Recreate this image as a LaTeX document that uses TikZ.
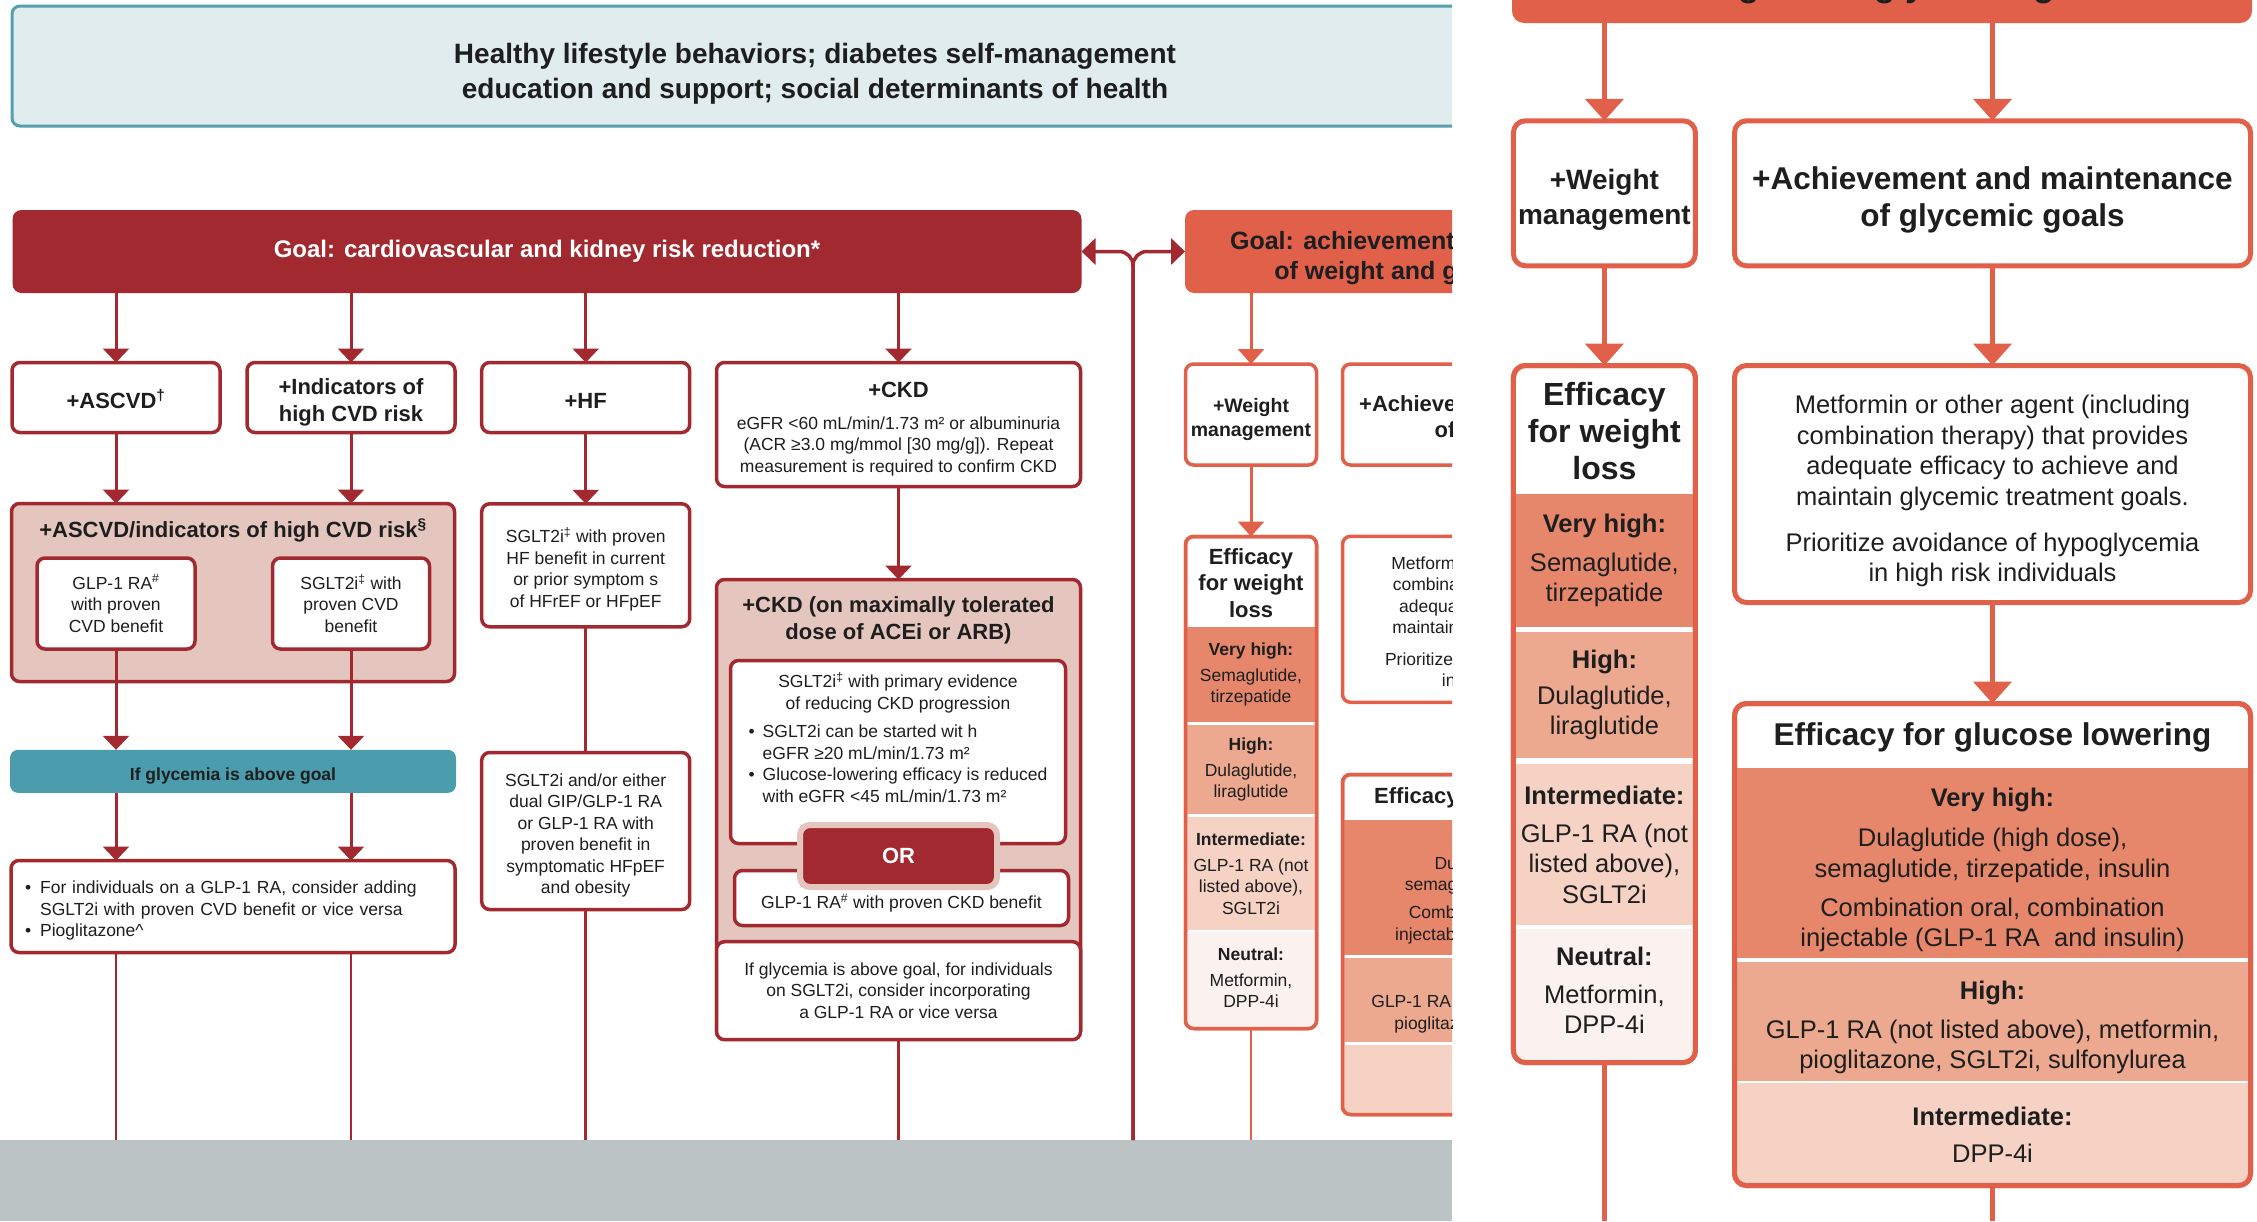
\documentclass[tikz,border=0pt]{standalone}
\usepackage{fontspec}
\setmainfont{Liberation Sans}
\usetikzlibrary{arrows.meta,positioning}

\definecolor{cvdred}{HTML}{A2292F}
\definecolor{riskpink}{HTML}{E5C6BF}
\definecolor{glyteal}{HTML}{4B9DAE}
\definecolor{lifeblue}{HTML}{E1ECEE}
\definecolor{lifeedge}{HTML}{55A0AF}
\definecolor{wgorange}{HTML}{E0604A}
\definecolor{effvhigh}{HTML}{E6876C}
\definecolor{effhigh}{HTML}{ECA98F}
\definecolor{effmid}{HTML}{F5D2C3}
\definecolor{effneutral}{HTML}{FBF1EE}
\definecolor{footgrey}{HTML}{BBC3C4}
\definecolor{inkgrey}{HTML}{1E1E1E}

\newcommand\lifesize{\fontsize{28}{34.5}\selectfont}
\newcommand\goalsize{\fontsize{24}{29}\selectfont}
\newcommand\headsize{\fontsize{22}{26.5}\selectfont}
\newcommand\bodysize{\fontsize{17.5}{21.5}\selectfont}
\newcommand\wgsize{\fontsize{19.5}{24.5}\selectfont}
\newcommand\tealsize{\fontsize{17.5}{21}\selectfont}
\newcommand\bigheadsize{\fontsize{31.5}{36.7}\selectfont}
\newcommand\bigbodysize{\fontsize{25.5}{30.5}\selectfont}
\newcommand\bigwgsize{\fontsize{28}{35.5}\selectfont}
% struts to push a node's text down or up inside its box
\newcommand\padtop[1]{\rule{0pt}{#1pt}}
\newcommand\padbot[1]{\rule[-#1pt]{0pt}{#1pt}}

\tikzset{
    cvdbox/.style = {draw=cvdred, line width=3.5pt, rounded corners=8pt, fill=white,
                 align=center, inner sep=0pt, outer sep=0pt},
    wgbox/.style = {draw=wgorange, line width=3.5pt, rounded corners=8pt, fill=white,
                 align=center, inner sep=0pt, outer sep=0pt},
    bigbox/.style = {draw=wgorange, line width=5pt, rounded corners=12pt, fill=white,
                 align=center, inner sep=0pt, outer sep=0pt},
    band/.style = {align=center, inner sep=0pt, outer sep=0pt},
    goalbox/.style = {rounded corners=9pt, align=center, inner sep=0pt, outer sep=0pt,
                 font=\bfseries\goalsize},
    arrL/.style = {draw=cvdred, line width=3pt, -{Triangle[width=26pt,length=14pt]}},
    lineL/.style = {draw=cvdred, line width=2.5pt},
    arrW/.style = {draw=wgorange, line width=3pt, -{Triangle[width=26pt,length=15pt]}},
    lineW/.style = {draw=wgorange, line width=2.5pt},
    arrB/.style = {draw=wgorange, line width=5pt, -{Triangle[width=38pt,length=22pt]}},
    lineB/.style = {draw=wgorange, line width=5pt},
}

\begin{document}
\begin{tikzpicture}[x=1pt, y=-1pt, font=\bodysize, text=inkgrey]
\useasboundingbox (0,0) rectangle (2257,1221);

%% full chart, cut at the right
\begin{scope}
\clip (0,0) rectangle (1452,1221);
\fill[footgrey] (0,1140) rectangle (1452,1221);

\node[draw=lifeedge, fill=lifeblue, line width=3pt, rounded corners=8pt, align=center,
      inner sep=0pt, minimum width=1606, minimum height=120, font=\bfseries\lifesize]
      (life) at (815,66) {\padtop{35.5}Healthy lifestyle behaviors; diabetes self-management\\education and support; social determinants of health};

\node[goalbox, fill=cvdred, text=white, minimum width=1069, minimum height=83] (cvdgoal) at (547,251.5) {Goal: cardiovascular and kidney risk reduction*};
\node[goalbox, fill=wgorange, minimum width=526, minimum height=83, font=\bfseries\fontsize{25}{30}\selectfont] (wggoal) at (1448,251.5) {\padtop{30.5}Goal: achievement and maintenance\\of weight and glycemic goals};

% cardiovascular / kidney columns
\node[cvdbox, minimum width=208, minimum height=70, font=\bfseries\headsize] (ascvd) at (116,397.5) {\padtop{22}+ASCVD\textsuperscript{†}};
\node[cvdbox, minimum width=208, minimum height=70, font=\bfseries\headsize] (indic) at (351,397.5) {\padtop{26}+Indicators of\\high CVD risk};
\node[cvdbox, minimum width=208, minimum height=70, font=\bfseries\headsize] (hf) at (585.7,397.5) {\padtop{22}+HF};
\node[cvdbox, minimum width=364, minimum height=124] (ckd) at (898.5,424.5) {{\bfseries\headsize\padtop{25}+CKD}\\[10pt]eGFR <60 mL/min/1.73 m² or albuminuria\\(ACR ≥3.0 mg/mmol [30 mg/g]). Repeat\\measurement is required to confirm CKD};

\node[cvdbox, fill=riskpink, minimum width=443, minimum height=178] (riskgrp) at (233,592.5) {};
\node[font=\bfseries\headsize, below=12pt of riskgrp.north] (risktitle) {+ASCVD/indicators of high CVD risk\textsuperscript{§}};
\node[cvdbox, minimum width=158, minimum height=91] (glpcvd) at (116,603.5) {GLP-1 RA\textsuperscript{\#}\\with proven\\CVD benefit};
\node[cvdbox, minimum width=157, minimum height=91] (sglcvd) at (351,603.5) {SGLT2i\textsuperscript{‡} with\\proven CVD\\benefit};

\node[cvdbox, minimum width=208, minimum height=123] (hfsgl) at (585.7,565.3) {\padtop{23}SGLT2i\textsuperscript{‡} with proven\\HF benefit in current\\or prior symptom s\\of HFrEF or HFpEF};

\node[fill=glyteal, rounded corners=8pt, inner sep=0pt, outer sep=0pt, minimum width=446, minimum height=43, font=\bfseries\tealsize] (glyabove) at (233,771.3) {\padtop{22}If glycemia is above goal};

\node[cvdbox, minimum width=208, minimum height=157] (hfdual) at (585.7,831) {\padtop{22}SGLT2i and/or either\\dual GIP/GLP-1 RA\\or GLP-1 RA with\\proven benefit in\\symptomatic HFpEF\\and obesity};

\node[cvdbox, minimum width=444, minimum height=92, align=left, text width=416, inner xsep=14pt] (addon) at (233,906.5) {\begin{tabular}{@{}l@{\hspace{9pt}}l@{}}
\padtop{24}\textbullet & For individuals on a GLP-1 RA, consider adding\\
 & SGLT2i with proven CVD benefit or vice versa\\
\textbullet & Pioglitazone\textasciicircum
\end{tabular}};

% CKD on ACEi/ARB
\node[cvdbox, fill=riskpink, minimum width=364, minimum height=459] (ckdmax) at (898.5,809) {};
\node[font=\bfseries\headsize, align=center, below=14pt of ckdmax.north] (ckdtitle) {+CKD (on maximally tolerated\\dose of ACEi or ARB)};
\node[cvdbox, minimum width=335, minimum height=183] (sglckd) at (898,752) {SGLT2i\textsuperscript{‡} with primary evidence\\of reducing CKD progression\\[9pt]%
\begin{tabular}{@{}l@{\hspace{8pt}}l@{}}
\textbullet & SGLT2i can be started wit h\\
 & eGFR ≥20 mL/min/1.73 m²\\
\textbullet & Glucose-lowering efficacy is reduced\\
 & with eGFR <45 mL/min/1.73 m²
\end{tabular}\\\rule{0pt}{22pt}};
\node[cvdbox, minimum width=334, minimum height=55] (glpckd) at (901.5,898) {\padtop{25}GLP-1 RA\textsuperscript{\#} with proven CKD benefit};
\node[fill=cvdred, draw=riskpink, line width=6pt, rounded corners=10pt, inner sep=0pt, outer sep=0pt,
      minimum width=197, minimum height=62, text=white, font=\bfseries\headsize] (orsep) at (898.5,856) {OR};
\node[cvdbox, minimum width=364, minimum height=98] (ckdnext) at (898.5,990.7) {If glycemia is above goal, for individuals\\on SGLT2i, consider incorporating\\a GLP-1 RA or vice versa};

% weight and glycemic columns
\node[wgbox, minimum width=131, minimum height=101, font=\bfseries\wgsize] (wmgmt) at (1251,414.5) {\padtop{24}+Weight\\management};
\node[wgbox, minimum width=369, minimum height=101, font=\bfseries\headsize] (achieve) at (1527,414.5) {\padtop{25}+Achievement and maintenance\\of glycemic goals};

\node[wgbox, minimum width=131, minimum height=492] (wloss) at (1251,782.5) {};
\begin{scope}
\clip[rounded corners=8pt] (wloss.south west) rectangle (wloss.north east);
\node[band, minimum width=140, minimum height=90, font=\bfseries\headsize] (wlhead) at (1251,583) {Efficacy\\for weight\\loss};
\node[band, fill=effvhigh, minimum width=140, minimum height=95] (wlvhigh) at (1251,674.5) {\textbf{Very high:}\\[4.5pt]Semaglutide,\\tirzepatide};
\node[band, fill=effhigh, minimum width=140, minimum height=89] (wlhigh) at (1251,769.5) {\textbf{High:}\\[4.5pt]Dulaglutide,\\liraglutide};
\node[band, fill=effmid, minimum width=140, minimum height=113] (wlmid) at (1251,873.5) {\textbf{Intermediate:}\\[4.5pt]GLP-1 RA (not\\listed above),\\SGLT2i};
\node[band, fill=effneutral, minimum width=140, minimum height=100] (wlneutral) at (1251,982) {\textbf{Neutral:}\\[4.5pt]Metformin,\\DPP-4i\padbot{9}};
\end{scope}
\draw[wgorange, line width=3.5pt, rounded corners=8pt] (wloss.south west) rectangle (wloss.north east);

\node[wgbox, minimum width=369, minimum height=166] (metform) at (1527,619.3) {\padtop{21.5}Metformin or other agent (including\\combination therapy) that provides\\adequate efficacy to achieve and\\maintain glycemic treatment goals.\\[10pt]Prioritize avoidance of hypoglycemia\\in high risk individuals};

\node[wgbox, minimum width=369, minimum height=340] (glucose) at (1527,944.5) {};
\begin{scope}
\clip[rounded corners=8pt] (glucose.south west) rectangle (glucose.north east);
\node[band, minimum width=380, minimum height=45, font=\bfseries\headsize] (glhead) at (1527,798) {Efficacy for glucose lowering};
\node[band, fill=effvhigh, minimum width=380, minimum height=135] (glvhigh) at (1527,887.5) {\textbf{Very high:}\\[3.5pt]Dulaglutide (high dose),\\semaglutide, tirzepatide, insulin\\[6.5pt]Combination oral, combination\\injectable (GLP-1 RA~ and insulin)};
\node[band, fill=effhigh, minimum width=380, minimum height=84] (glhigh) at (1527,1000) {\textbf{High:}\\[6pt]GLP-1 RA (not listed above), metformin,\\pioglitazone, SGLT2i, sulfonylurea};
\node[band, fill=effmid, minimum width=380, minimum height=75] (glmid) at (1527,1082) {\textbf{Intermediate:}\\[5pt]DPP-4i};
\end{scope}
\draw[wgorange, line width=3.5pt, rounded corners=8pt] (glucose.south west) rectangle (glucose.north east);

% line ends at the foot of the chart
\coordinate (ascvdfoot) at (116,1140);
\coordinate (indicfoot) at (351,1140);
\coordinate (hffoot) at (585.7,1140);
\coordinate (ckdfoot) at (898.5,1140);
\coordinate (midfoot) at (1133,1140);
\coordinate (wlfoot) at (1251,1140);
\coordinate (glfoot) at (1527,1140);

\draw[arrL] (cvdgoal.south -| ascvd.north) -- (ascvd.north);
\draw[arrL] (cvdgoal.south -| indic.north) -- (indic.north);
\draw[arrL] (cvdgoal.south -| hf.north) -- (hf.north);
\draw[arrL] (cvdgoal.south -| ckd.north) -- (ckd.north);
\draw[arrL] (ascvd.south) -- (ascvd.south |- riskgrp.north);
\draw[arrL] (indic.south) -- (indic.south |- riskgrp.north);
\draw[arrL] (glpcvd.south) -- (glpcvd.south |- glyabove.north);
\draw[arrL] (sglcvd.south) -- (sglcvd.south |- glyabove.north);
\draw[arrL] (glyabove.south -| glpcvd.south) -- (addon.north -| glpcvd.south);
\draw[arrL] (glyabove.south -| sglcvd.south) -- (addon.north -| sglcvd.south);
\draw[lineL] (addon.south -| ascvdfoot) -- (ascvdfoot);
\draw[lineL] (addon.south -| indicfoot) -- (indicfoot);
\draw[arrL] (hf) -- (hfsgl);
\draw[lineL] (hfsgl) -- (hfdual);
\draw[lineL] (hfdual) -- (hffoot);
\draw[arrL] (ckd) -- (ckdmax);
\draw[lineL] (ckdnext) -- (ckdfoot);
\draw[arrL, line width=3.5pt, rounded corners=14pt] (midfoot) |- (cvdgoal.east);
\draw[arrL, line width=3.5pt, rounded corners=14pt] (midfoot) |- (wggoal.west);

\draw[arrW] (wggoal.south -| wmgmt.north) -- (wmgmt.north);
\draw[arrW] (wggoal.south -| achieve.north) -- (achieve.north);
\draw[arrW] (wmgmt) -- (wloss);
\draw[arrW] (achieve) -- (metform);
\draw[arrW] (metform) -- (glucose);
\draw[lineW] (wloss) -- (wlfoot);
\draw[lineW] (glucose) -- (glfoot);
\end{scope}

%% weight and glycemic columns, enlarged
\begin{scope}
\clip (1452,0) rectangle (2257,1221);
\node[goalbox, fill=wgorange, rounded corners=12pt, minimum width=740, minimum height=112,
      font=\bfseries\fontsize{35}{42}\selectfont] (zgoal) at (1882,-33) {Goal: achievement and maintenance\\of weight and glycemic goals};

\node[bigbox, minimum width=182, minimum height=145, font=\bfseries\bigwgsize] (zweight) at (1604.4,193.3) {\padtop{33.5}+Weight\\management};
\node[bigbox, minimum width=516, minimum height=145, font=\bfseries\bigheadsize] (zachieve) at (1992.5,193.3) {\padtop{36}+Achievement and maintenance\\of glycemic goals};

\node[bigbox, minimum width=182, minimum height=697] (zwloss) at (1604.4,714) {};
\begin{scope}
\clip[rounded corners=12pt] (zwloss.south west) rectangle (zwloss.north east);
\node[band, minimum width=192, minimum height=128, font=\bfseries\fontsize{32}{36.7}\selectfont] (zwlhead) at (1604.4,431) {Efficacy\\for weight\\loss};
\node[band, fill=effvhigh, minimum width=192, minimum height=133, font=\bigbodysize] (zwlvhigh) at (1604.4,560.5) {\textbf{Very high:}\\[8.5pt]Semaglutide,\\tirzepatide};
\node[band, fill=effhigh, minimum width=192, minimum height=126, font=\bigbodysize] (zwlhigh) at (1604.4,695) {\textbf{High:}\\[5.5pt]Dulaglutide,\\liraglutide};
\node[band, fill=effmid, minimum width=192, minimum height=161, font=\bigbodysize] (zwlmid) at (1604.4,844.5) {\textbf{Intermediate:}\\[7.5pt]GLP-1 RA (not\\listed above),\\SGLT2i};
\node[band, fill=effneutral, minimum width=192, minimum height=136, font=\bigbodysize] (zwlneutral) at (1604.4,997) {\textbf{Neutral:}\\[7.5pt]Metformin,\\DPP-4i\padbot{13.5}};
\end{scope}
\draw[wgorange, line width=5pt, rounded corners=12pt] (zwloss.south west) rectangle (zwloss.north east);

\node[bigbox, minimum width=516, minimum height=237, font=\bigbodysize] (zmetform) at (1992.5,484) {\padtop{33}Metformin or other agent (including\\combination therapy) that provides\\adequate efficacy to achieve and\\maintain glycemic treatment goals.\\[15.5pt]Prioritize avoidance of hypoglycemia\\in high risk individuals};

\node[bigbox, minimum width=516, minimum height=482] (zglucose) at (1992.5,944.5) {};
\begin{scope}
\clip[rounded corners=12pt] (zglucose.south west) rectangle (zglucose.north east);
\node[band, minimum width=530, minimum height=60, font=\bfseries\bigheadsize] (zglhead) at (1992.5,737) {Efficacy for glucose lowering};
\node[band, fill=effvhigh, minimum width=530, minimum height=190, font=\bigbodysize] (zglvhigh) at (1992.5,863) {\padtop{33}\textbf{Very high:}\\[9.5pt]Dulaglutide (high dose),\\semaglutide, tirzepatide, insulin\\[8.5pt]Combination oral, combination\\injectable (GLP-1 RA~ and insulin)};
\node[band, fill=effhigh, minimum width=530, minimum height=119, font=\bigbodysize] (zglhigh) at (1992.5,1021.5) {\padtop{30.5}\textbf{High:}\\[8.5pt]GLP-1 RA (not listed above), metformin,\\pioglitazone, SGLT2i, sulfonylurea};
\node[band, fill=effmid, minimum width=530, minimum height=104, font=\bigbodysize] (zglmid) at (1992.5,1135) {\textbf{Intermediate:}\\[6.5pt]DPP-4i};
\end{scope}
\draw[wgorange, line width=5pt, rounded corners=12pt] (zglucose.south west) rectangle (zglucose.north east);

\coordinate (zwlfoot) at (1604.4,1221);
\coordinate (zglfoot) at (1992.5,1221);
\draw[arrB] (zgoal.south -| zweight.north) -- (zweight.north);
\draw[arrB] (zgoal.south -| zachieve.north) -- (zachieve.north);
\draw[arrB] (zweight) -- (zwloss);
\draw[arrB] (zachieve) -- (zmetform);
\draw[arrB] (zmetform) -- (zglucose);
\draw[lineB] (zwloss) -- (zwlfoot);
\draw[lineB] (zglucose) -- (zglfoot);
\end{scope}
\end{tikzpicture}
\end{document}
